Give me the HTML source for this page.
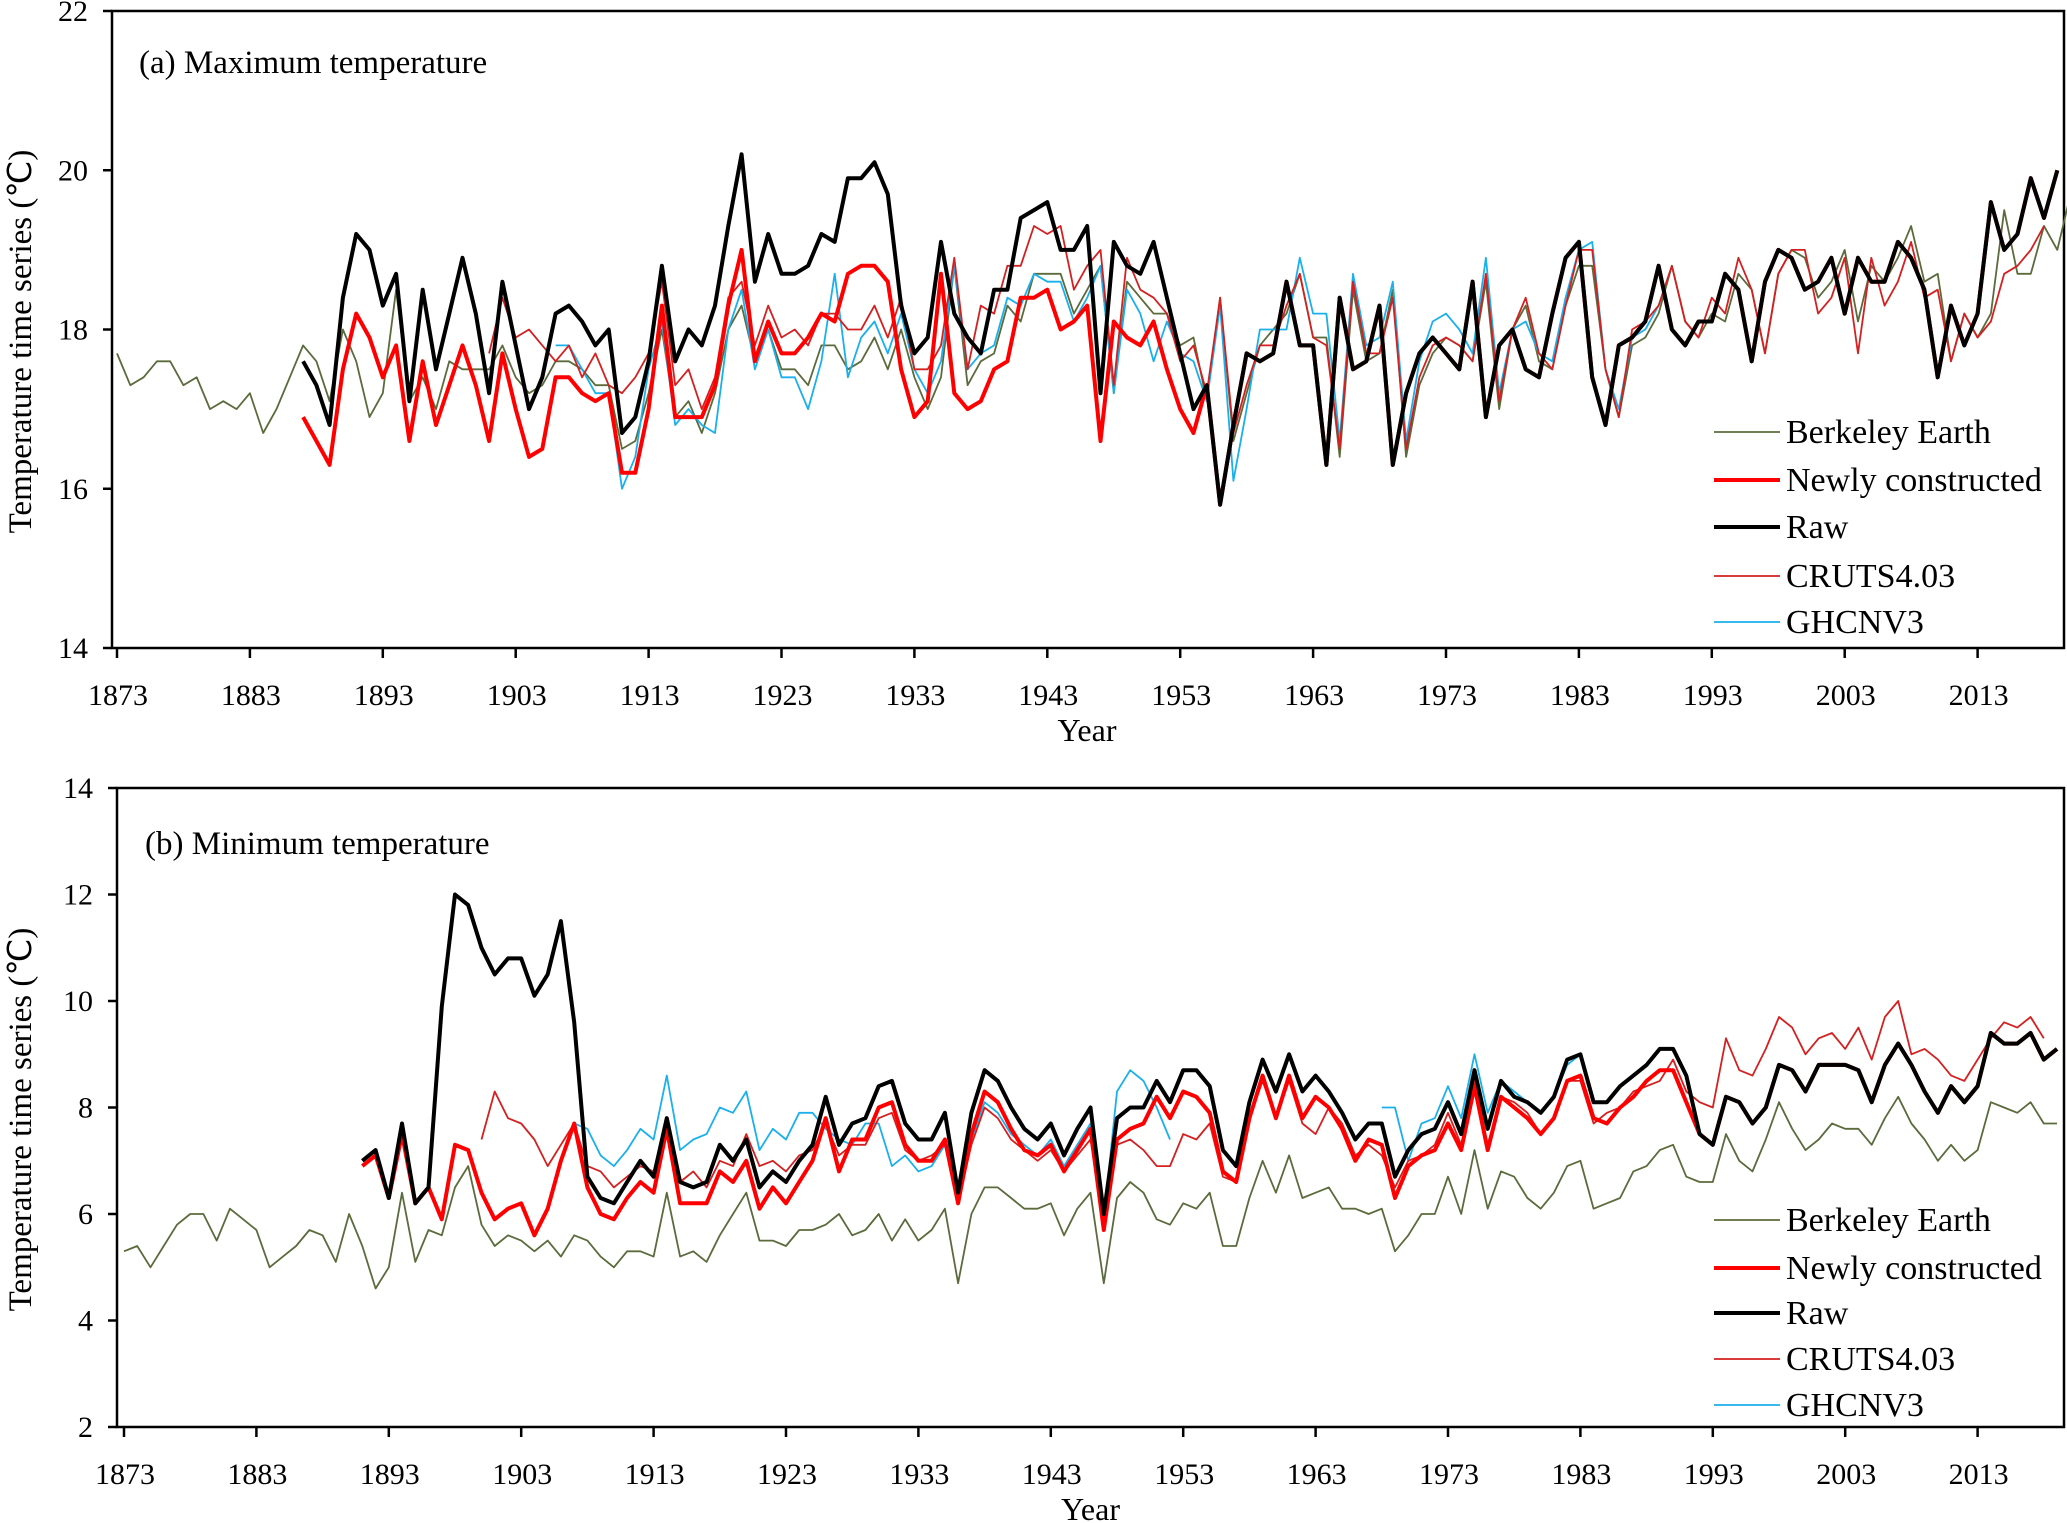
<!DOCTYPE html>
<html><head><meta charset="utf-8"><style>
html,body{margin:0;padding:0;background:#fff}
svg{display:block;font-family:"Liberation Serif",serif}
</style></head><body>
<svg id="chart" width="2067" height="1523" viewBox="0 0 2067 1523" xmlns="http://www.w3.org/2000/svg"></svg>
<script>
// ---------- Panel (a) Maximum temperature ----------
const xTickYears=[1873,1883,1893,1903,1913,1923,1933,1943,1953,1963,1973,1983,1993,2003,2013];
const aYTicks=[14,16,18,20,22];
const bYTicks=[2,4,6,8,10,12,14];
const aBerkStart=1873;
const aBerk=[17.7,17.3,17.4,17.6,17.6,17.3,17.4,17.0,17.1,17.0,17.2,16.7,17.0,17.4,17.8,17.6,17.1,18.0,17.6,16.9,17.2,18.5,17.1,17.4,17.0,17.6,17.5,17.5,17.5,17.8,17.4,17.2,17.3,17.6,17.6,17.5,17.3,17.3,16.5,16.6,17.2,18.0,16.9,17.1,16.7,17.2,18.0,18.3,17.6,18.0,17.5,17.5,17.3,17.8,17.8,17.5,17.6,17.9,17.5,18.0,17.4,17.0,17.4,18.8,17.3,17.6,17.7,18.3,18.1,18.7,18.7,18.7,18.2,18.5,18.8,17.2,18.6,18.4,18.2,18.2,17.8,17.9,17.1,18.4,16.6,17.2,17.8,18.0,18.2,18.7,17.9,17.9,16.4,18.5,17.6,17.7,18.5,16.4,17.3,17.7,17.9,17.8,17.6,18.6,17.0,18.0,18.3,17.6,17.5,18.3,18.8,18.8,17.5,16.9,17.8,17.9,18.2,18.8,18.1,17.9,18.2,18.1,18.7,18.5,17.7,18.7,19.0,18.9,18.4,18.6,19.0,18.1,18.8,18.6,18.9,19.3,18.6,18.7,17.6,18.2,17.9,18.2,19.5,18.7,18.7,19.3,19.0,19.7];
const aRawStart=1887;
const aRaw=[17.6,17.3,16.8,18.4,19.2,19.0,18.3,18.7,17.1,18.5,17.5,18.2,18.9,18.2,17.2,18.6,17.8,17.0,17.4,18.2,18.3,18.1,17.8,18.0,16.7,16.9,17.6,18.8,17.6,18.0,17.8,18.3,19.3,20.2,18.6,19.2,18.7,18.7,18.8,19.2,19.1,19.9,19.9,20.1,19.7,18.3,17.7,17.9,19.1,18.2,17.9,17.7,18.5,18.5,19.4,19.5,19.6,19.0,19.0,19.3,17.2,19.1,18.8,18.7,19.1,18.4,17.7,17.0,17.3,15.8,16.8,17.7,17.6,17.7,18.6,17.8,17.8,16.3,18.4,17.5,17.6,18.3,16.3,17.2,17.7,17.9,17.7,17.5,18.6,16.9,17.8,18.0,17.5,17.4,18.2,18.9,19.1,17.4,16.8,17.8,17.9,18.1,18.8,18.0,17.8,18.1,18.1,18.7,18.5,17.6,18.6,19.0,18.9,18.5,18.6,18.9,18.2,18.9,18.6,18.6,19.1,18.9,18.5,17.4,18.3,17.8,18.2,19.6,19.0,19.2,19.9,19.4,20.0];
const aNewStart=1887;
const aNew=[16.9,16.6,16.3,17.5,18.2,17.9,17.4,17.8,16.6,17.6,16.8,17.3,17.8,17.3,16.6,17.7,17.0,16.4,16.5,17.4,17.4,17.2,17.1,17.2,16.2,16.2,17.0,18.3,16.9,16.9,16.9,17.3,18.3,19.0,17.6,18.1,17.7,17.7,17.9,18.2,18.1,18.7,18.8,18.8,18.6,17.5,16.9,17.1,18.7,17.2,17.0,17.1,17.5,17.6,18.4,18.4,18.5,18.0,18.1,18.3,16.6,18.1,17.9,17.8,18.1,17.5,17.0,16.7,17.3,15.8,16.8,17.7,17.6,17.7,18.6,17.8,17.8,16.3,18.4,17.5,17.6,18.3,16.3,17.2,17.7,17.9,17.7,17.5,18.6,16.9,17.8,18.0,17.5,17.4,18.2,18.9,19.1,17.4,16.8,17.8,17.9,18.1,18.8,18.0,17.8,18.1,18.1,18.7,18.5,17.6,18.6,19.0,18.9,18.5,18.6,18.9,18.2,18.9,18.6,18.6,19.1,18.9,18.5,17.4,18.3,17.8,18.2,19.6,19.0,19.2,19.9,19.4,20.0];
const aCruStart=1901;
const aCru=[17.7,18.4,17.9,18.0,17.8,17.6,17.8,17.4,17.7,17.3,17.2,17.4,17.7,18.6,17.3,17.5,17.0,17.4,18.4,18.6,17.8,18.3,17.9,18.0,17.8,18.2,18.2,18.0,18.0,18.3,17.9,18.4,17.5,17.5,17.8,18.9,17.5,18.3,18.2,18.8,18.8,19.3,19.2,19.3,18.5,18.8,19.0,17.3,18.9,18.5,18.4,18.2,17.6,17.8,17.2,18.4,16.7,17.3,17.8,17.8,18.3,18.7,17.9,17.8,16.5,18.6,17.7,17.7,18.4,16.5,17.4,17.8,17.9,17.8,17.6,18.7,17.1,18.0,18.4,17.7,17.5,18.3,19.0,19.0,17.5,16.9,18.0,18.1,18.3,18.8,18.1,17.9,18.4,18.2,18.9,18.5,17.7,18.7,19.0,19.0,18.2,18.4,18.9,17.7,18.9,18.3,18.6,19.1,18.4,18.5,17.6,18.2,17.9,18.1,18.7,18.8,19.0,19.3];
const aGhcStart=1906;
const aGhc=[17.8,17.8,17.5,17.2,17.2,16.0,16.4,17.5,18.1,16.8,17.0,16.8,16.7,18.0,18.5,17.5,18.0,17.4,17.4,17.0,17.6,18.7,17.4,17.9,18.1,17.7,18.2,17.5,17.2,17.6,18.8,17.5,17.7,17.8,18.4,18.3,18.7,18.6,18.6,18.1,18.4,18.8,17.2,18.5,18.2,17.6,18.1,17.7,17.6,17.1,18.3,16.1,17.0,18.0,18.0,18.0,18.9,18.2,18.2,16.6,18.7,17.8,17.9,18.6,16.6,17.6,18.1,18.2,18.0,17.7,18.9,17.2,18.0,18.1,17.7,17.6,18.4,19.0,19.1,17.5,17.0,17.9,18.0,18.3,18.8];
// ---------- Panel (b) Minimum temperature ----------
const bBerkStart=1873;
const bBerk=[5.3,5.4,5.0,5.4,5.8,6.0,6.0,5.5,6.1,5.9,5.7,5.0,5.2,5.4,5.7,5.6,5.1,6.0,5.4,4.6,5.0,6.4,5.1,5.7,5.6,6.5,6.9,5.8,5.4,5.6,5.5,5.3,5.5,5.2,5.6,5.5,5.2,5.0,5.3,5.3,5.2,6.4,5.2,5.3,5.1,5.6,6.0,6.4,5.5,5.5,5.4,5.7,5.7,5.8,6.0,5.6,5.7,6.0,5.5,5.9,5.5,5.7,6.1,4.7,6.0,6.5,6.5,6.3,6.1,6.1,6.2,5.6,6.1,6.4,4.7,6.3,6.6,6.4,5.9,5.8,6.2,6.1,6.4,5.4,5.4,6.3,7.0,6.4,7.1,6.3,6.4,6.5,6.1,6.1,6.0,6.1,5.3,5.6,6.0,6.0,6.7,6.0,7.2,6.1,6.8,6.7,6.3,6.1,6.4,6.9,7.0,6.1,6.2,6.3,6.8,6.9,7.2,7.3,6.7,6.6,6.6,7.5,7.0,6.8,7.4,8.1,7.6,7.2,7.4,7.7,7.6,7.6,7.3,7.8,8.2,7.7,7.4,7.0,7.3,7.0,7.2,8.1,8.0,7.9,8.1,7.7,7.7];
const bRawStart=1891;
const bRaw=[7.0,7.2,6.3,7.7,6.2,6.5,9.9,12.0,11.8,11.0,10.5,10.8,10.8,10.1,10.5,11.5,9.6,6.7,6.3,6.2,6.6,7.0,6.7,7.8,6.6,6.5,6.6,7.3,7.0,7.4,6.5,6.8,6.6,7.0,7.3,8.2,7.3,7.7,7.8,8.4,8.5,7.7,7.4,7.4,7.9,6.4,7.9,8.7,8.5,8.0,7.6,7.4,7.7,7.1,7.6,8.0,6.0,7.8,8.0,8.0,8.5,8.1,8.7,8.7,8.4,7.2,6.9,8.1,8.9,8.3,9.0,8.3,8.6,8.3,7.9,7.4,7.7,7.7,6.7,7.2,7.5,7.6,8.1,7.5,8.7,7.6,8.5,8.2,8.1,7.9,8.2,8.9,9.0,8.1,8.1,8.4,8.6,8.8,9.1,9.1,8.6,7.5,7.3,8.2,8.1,7.7,8.0,8.8,8.7,8.3,8.8,8.8,8.8,8.7,8.1,8.8,9.2,8.8,8.3,7.9,8.4,8.1,8.4,9.4,9.2,9.2,9.4,8.9,9.1];
const bNewStart=1891;
const bNew=[6.9,7.1,6.3,7.5,6.2,6.5,5.9,7.3,7.2,6.4,5.9,6.1,6.2,5.6,6.1,7.0,7.7,6.5,6.0,5.9,6.3,6.6,6.4,7.6,6.2,6.2,6.2,6.8,6.6,7.0,6.1,6.5,6.2,6.6,7.0,7.8,6.8,7.4,7.4,8.0,8.1,7.3,7.0,7.0,7.4,6.2,7.5,8.3,8.1,7.6,7.2,7.1,7.3,6.8,7.2,7.6,5.7,7.4,7.6,7.7,8.2,7.8,8.3,8.2,7.9,6.8,6.6,7.8,8.6,7.8,8.6,7.8,8.2,8.0,7.6,7.0,7.4,7.3,6.3,6.9,7.1,7.2,7.7,7.2,8.4,7.2,8.2,8.0,7.8,7.5,7.8,8.5,8.6,7.8,7.7,8.0,8.2,8.5,8.7,8.7,8.1,7.5,7.3,8.2,8.1,7.7,8.0,8.8,8.7,8.3,8.8,8.8,8.8,8.7,8.1,8.8,9.2,8.8,8.3,7.9,8.4,8.1,8.4,9.4,9.2,9.2,9.4,8.9,9.1];
const bCruStart=1900;
const bCru=[7.4,8.3,7.8,7.7,7.4,6.9,7.3,7.7,6.9,6.8,6.5,6.7,6.9,6.8,7.6,6.6,6.8,6.5,7.0,6.9,7.5,6.9,7.0,6.8,7.1,7.2,7.7,7.1,7.3,7.3,7.8,7.9,7.2,7.0,7.1,7.3,6.2,7.3,8.0,7.8,7.4,7.2,7.0,7.2,6.8,7.1,7.4,5.8,7.3,7.4,7.2,6.9,6.9,7.5,7.4,7.7,6.7,6.6,7.8,8.5,7.8,8.5,7.7,7.5,8.0,7.7,7.1,7.3,7.1,6.5,7.0,7.1,7.3,7.9,7.3,8.5,7.3,8.2,8.1,7.9,7.5,7.8,8.5,8.5,7.7,7.9,8.0,8.3,8.4,8.5,8.9,8.3,8.1,8.0,9.3,8.7,8.6,9.1,9.7,9.5,9.0,9.3,9.4,9.1,9.5,8.9,9.7,10.0,9.0,9.1,8.9,8.6,8.5,8.9,9.3,9.6,9.5,9.7,9.3];
const bGhcStart=1906;
const bGhc=[7.0,7.7,7.6,7.1,6.9,7.2,7.6,7.4,8.6,7.2,7.4,7.5,8.0,7.9,8.3,7.2,7.6,7.4,7.9,7.9,7.6,7.4,7.3,7.7,7.7,6.9,7.1,6.8,6.9,7.3,6.2,7.4,8.1,7.9,7.5,7.3,7.1,7.4,6.9,7.3,7.7,5.9,8.3,8.7,8.5,8.0,7.4,null,null,null,null,null,null,null,null,null,null,null,null,null,null,null,8.0,8.0,7.0,7.7,7.8,8.4,7.8,9.0,7.9,8.5,8.3,8.1,7.9,8.2,8.8,9.0,8.1,8.1,8.4,8.6,8.8,9.1,9.1];

const NS="http://www.w3.org/2000/svg";
const svg=document.getElementById('chart');
function mk(tag,attrs,parent){const e=document.createElementNS(NS,tag);for(const k in attrs)e.setAttribute(k,attrs[k]);(parent||svg).appendChild(e);return e;}

function drawPanel(p){
  const g=mk('g',{});
  
  
  const xs=yr=>p.x0+(yr-1873)*p.pxYr;
  const ys=v=>p.bottom-(v-p.yMin)/(p.yMax-p.yMin)*(p.bottom-p.top);
  const box=mk('rect',{x:p.left,y:p.top,width:p.right-p.left,height:p.bottom-p.top,fill:'none',stroke:'#000','stroke-width':2.5},g);
  
  
  p.yTicks.forEach(v=>{
    const y=ys(v);
    const t=mk('line',{x1:p.left-9,x2:p.left,y1:y,y2:y,stroke:'#000','stroke-width':2.5},g);
    
    
    const l=mk('text',{x:p.left-24,y:y+10,'text-anchor':'end','font-size':30},g);
    
    
    l.textContent=v;
  });
  xTickYears.forEach(yr=>{
    const x=xs(yr);
    const t=mk('line',{x1:x,x2:x,y1:p.bottom,y2:p.bottom+10,stroke:'#000','stroke-width':2.5},g);
    
    
    const l=mk('text',{x:x+1,y:p.bottom+57,'text-anchor':'middle','font-size':30},g);
    
    
    l.textContent=yr;
  });
  const xt=mk('text',{x:(p.left+p.right)/2+(p.id==='a'?-1:0),y:p.bottom+p.yearDy,'text-anchor':'middle','font-size':32},g);
  
  
  xt.textContent='Year';
  const cy=(p.top+p.bottom)/2+12;
  const yt=mk('text',{x:0,y:0,transform:`translate(31,${cy}) rotate(-90)`,'text-anchor':'middle','font-size':33},g);
  
  
  yt.textContent='Temperature time series (℃)';
  const tt=mk('text',{x:p.titleX,y:p.titleY,'font-size':33},g);
  
  
  tt.textContent=p.title;
  p.series.forEach(s=>{
    let d='',pen=false;
    s.vals.forEach((v,i)=>{
      if(v===null){pen=false;return;}
      d+=(pen?'L':'M')+xs(s.start+i).toFixed(1)+' '+ys(v).toFixed(1);
      pen=true;
    });
    const pth=mk('path',{d:d,fill:'none',stroke:s.color,'stroke-width':s.w,'stroke-linejoin':'round'},g);
    
    
  });
  const order=['berkeley-earth','newly-constructed','raw','cruts-4-03','ghcn-v3'];
  const labels={'berkeley-earth':'Berkeley Earth','newly-constructed':'Newly constructed','raw':'Raw','cruts-4-03':'CRUTS4.03','ghcn-v3':'GHCNV3'};
  order.forEach((n,i)=>{
    const s=p.series.find(q=>q.name===n);
    const y=p.legY[i];
    const le=mk('g',{},g);
    
    
    mk('line',{x1:p.legX,x2:p.legX+66,y1:y,y2:y,stroke:s.color,'stroke-width':s.w},le);
    const lt=mk('text',{x:p.legX+72,y:y+11,'font-size':34},le);
    lt.textContent=labels[n];
  });
}
const colors={berk:'#5b6b3c',newc:'#ff0000',raw:'#000000',cru:'#d42020',ghc:'#1ab0ec'};
drawPanel({id:'a',title:'(a) Maximum temperature',titleX:139,titleY:73,yearDy:93,left:112,right:2064,top:11,bottom:648,x0:117,pxYr:13.29,yMin:14,yMax:22,yTicks:aYTicks,legX:1714,legY:[432,480,527,576,622],
 series:[{name:'berkeley-earth',start:aBerkStart,vals:aBerk,color:colors.berk,w:1.8},{name:'ghcn-v3',start:aGhcStart,vals:aGhc,color:colors.ghc,w:1.8},{name:'cruts-4-03',start:aCruStart,vals:aCru,color:colors.cru,w:1.8},{name:'newly-constructed',start:aNewStart,vals:aNew,color:colors.newc,w:4},{name:'raw',start:aRawStart,vals:aRaw,color:colors.raw,w:4}]});
drawPanel({id:'b',title:'(b) Minimum temperature',titleX:145,titleY:854,yearDy:93,left:117,right:2064,top:788,bottom:1427,x0:124,pxYr:13.24,yMin:2,yMax:14,yTicks:bYTicks,legX:1714,legY:[1220,1268,1313,1359,1405],
 series:[{name:'berkeley-earth',start:bBerkStart,vals:bBerk,color:colors.berk,w:1.8},{name:'ghcn-v3',start:bGhcStart,vals:bGhc,color:colors.ghc,w:1.8},{name:'cruts-4-03',start:bCruStart,vals:bCru,color:colors.cru,w:1.8},{name:'newly-constructed',start:bNewStart,vals:bNew,color:colors.newc,w:4},{name:'raw',start:bRawStart,vals:bRaw,color:colors.raw,w:4}]});
</script>
</body></html>
